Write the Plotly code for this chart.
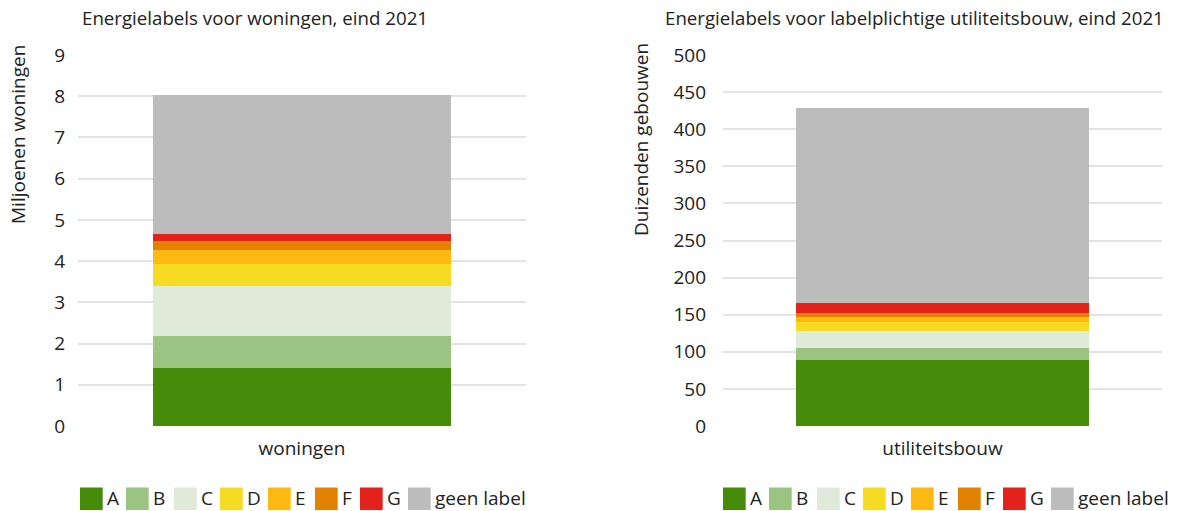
import plotly.graph_objects as go

# ---- data ----
labels = ["A", "B", "C", "D", "E", "F", "G", "geen label"]
colors = ["#468c0a", "#9bc382", "#dfead8", "#f5dc23", "#ffb912", "#e18200", "#e3221b", "#bcbcbc"]

woningen_cat = ["woningen"]
woningen_vals = [1.40, 0.78, 1.21, 0.53, 0.34, 0.22, 0.17, 3.37]   # miljoenen woningen

util_cat = ["utiliteitsbouw"]
util_vals = [89, 16, 23, 12, 7, 5, 13.5, 263]                       # duizenden gebouwen

title_left = "Energielabels voor woningen, eind 2021"
title_right = "Energielabels voor labelplichtige utiliteitsbouw, eind 2021"
ytitle_left = "Miljoenen woningen"
ytitle_right = "Duizenden gebouwen"

# ---- layout geometry (pixels) ----
W, H = 1182, 511
ML, MR, MT, MB = 78, 20, 55, 85
PW = W - ML - MR
PH = H - MT - MB
FONT = "Open Sans"
FS = 19
TXT = "#222222"


def px(x):
    return (x - ML) / PW


def py(y):
    return (H - MB - y) / PH


fig = go.Figure()
for lab, col, v in zip(labels, colors, woningen_vals):
    fig.add_trace(go.Bar(x=woningen_cat, y=[v], name=lab, marker=dict(color=col, line=dict(width=0)),
                         xaxis="x", yaxis="y", showlegend=False))
for lab, col, v in zip(labels, colors, util_vals):
    fig.add_trace(go.Bar(x=util_cat, y=[v], name=lab, marker=dict(color=col, line=dict(width=0)),
                         xaxis="x2", yaxis="y2", showlegend=False))

axis_common = dict(showline=False, zeroline=False, ticks="", fixedrange=True,
                   tickfont=dict(family=FONT, size=FS, color=TXT))

fig.update_layout(
    width=W, height=H, autosize=False,
    margin=dict(l=ML, r=MR, t=MT, b=MB),
    barmode="stack", bargap=0.333,
    plot_bgcolor="white", paper_bgcolor="white",
    font=dict(family=FONT, size=FS, color=TXT),
    xaxis=dict(domain=[0, px(526)], showgrid=False, anchor="y", ticklabelstandoff=9, **axis_common),
    xaxis2=dict(domain=[px(723), 1], showgrid=False, anchor="y2", ticklabelstandoff=9, **axis_common),
    yaxis=dict(range=[0, 9], dtick=1, showgrid=True, gridcolor="#e3e3e3", gridwidth=1.5,
               anchor="x", ticklabelstandoff=12, **axis_common),
    yaxis2=dict(range=[0, 500], dtick=50, showgrid=True, gridcolor="#e3e3e3", gridwidth=1.5,
                anchor="x2", ticklabelstandoff=16, **axis_common),
)

TFS = 18.7
annotations = [
    dict(text=title_left, x=px(80), y=py(18), xanchor="left", yanchor="middle", fs=TFS),
    dict(text=title_right, x=px(663), y=py(18), xanchor="left", yanchor="middle", fs=TFS),
    dict(text=ytitle_left, x=px(18), y=py(135), textangle=-90, xanchor="center", yanchor="middle", fs=FS),
    dict(text=ytitle_right, x=px(641), y=py(140), textangle=-90, xanchor="center", yanchor="middle", fs=FS),
]

# legends (hand-drawn to get large square swatches)
offsets = [0, 46, 94, 140, 188, 235, 280, 328]
SQ = 22.7
shapes = []
for start in (80, 723):
    for off, lab, col in zip(offsets, labels, colors):
        x0 = start + off
        shapes.append(dict(type="rect", xref="paper", yref="paper",
                           x0=px(x0), x1=px(x0 + SQ), y0=py(487.5), y1=py(510),
                           fillcolor=col, line=dict(width=0)))
        annotations.append(dict(text=lab, x=px(x0 + SQ + 3), y=py(498.5), xanchor="left",
                                yanchor="middle", borderpad=0, fs=FS))

for a in annotations:
    fs = a.pop("fs")
    a.update(xref="paper", yref="paper", showarrow=False, font=dict(family=FONT, size=fs, color=TXT))

fig.update_layout(annotations=annotations, shapes=shapes)
fig.write_html("out.html", config={"displayModeBar": False},
               post_script="document.body.style.margin='0';document.body.style.overflow='hidden';")
